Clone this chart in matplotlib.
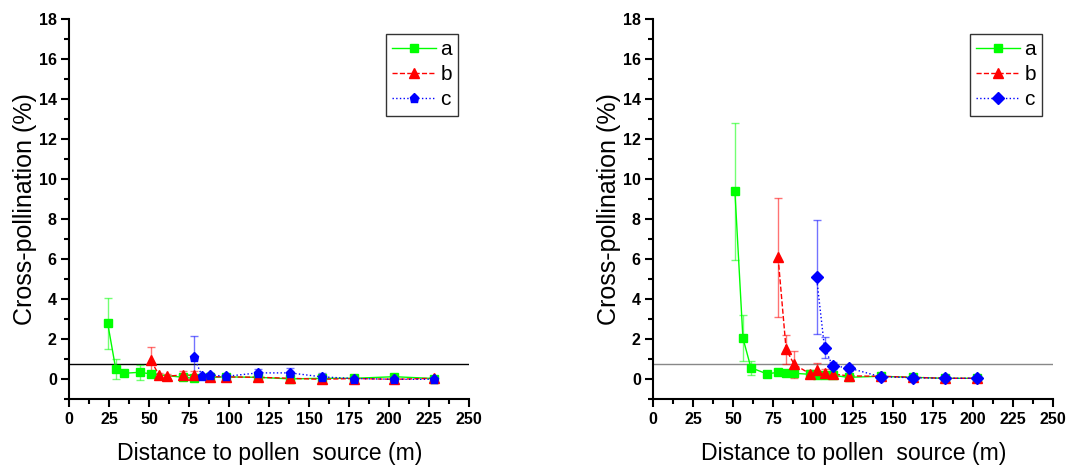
import matplotlib
matplotlib.use("Agg")
import matplotlib.pyplot as plt
from matplotlib.ticker import MultipleLocator
from matplotlib.lines import Line2D

plt.rcParams['font.family'] = ['Liberation Sans', 'DejaVu Sans']

# ---------------- data: left panel ----------------
L_a_x = [24, 29, 34, 44, 51, 71, 78, 88, 98, 118, 138, 158, 178, 203, 228]
L_a_y = [2.8, 0.53, 0.3, 0.35, 0.27, 0.1, 0.05, 0.1, 0.12, 0.1, 0.02, 0.05, 0.05, 0.13, 0.04]
L_a_e = [1.27, 0.5, 0.12, 0.36, 0.1, 0.1, 0.1, 0.1, 0.08, 0.1, 0.08, 0.08, 0.06, 0.1, 0.06]

L_b_x = [51, 56, 61, 71, 78, 88, 98, 118, 138, 158, 178, 203, 228]
L_b_y = [0.95, 0.22, 0.15, 0.22, 0.2, 0.13, 0.12, 0.1, 0.05, 0.0, 0.04, 0.0, 0.05]
L_b_e = [0.65, 0.12, 0.12, 0.2, 0.2, 0.12, 0.1, 0.12, 0.1, 0.15, 0.08, 0.08, 0.1]

L_c_x = [78, 83, 88, 98, 118, 138, 158, 178, 203, 228]
L_c_y = [1.1, 0.15, 0.22, 0.15, 0.32, 0.32, 0.12, 0.04, 0.0, 0.0]
L_c_e = [1.07, 0.12, 0.12, 0.1, 0.2, 0.25, 0.18, 0.08, 0.08, 0.1]

# ---------------- data: right panel ----------------
R_a_x = [51, 56, 61, 71, 78, 83, 88, 98, 102, 107, 112, 122, 142, 162, 182, 202]
R_a_y = [9.4, 2.07, 0.58, 0.27, 0.35, 0.3, 0.3, 0.25, 0.22, 0.2, 0.2, 0.1, 0.15, 0.1, 0.05, 0.05]
R_a_e = [3.43, 1.14, 0.35, 0.12, 0.1, 0.12, 0.1, 0.1, 0.08, 0.08, 0.08, 0.08, 0.08, 0.06, 0.06, 0.05]

R_b_x = [78, 83, 88, 98, 102, 107, 112, 122, 142, 162, 182, 202]
R_b_y = [6.1, 1.5, 0.75, 0.27, 0.47, 0.33, 0.27, 0.17, 0.15, 0.1, 0.05, 0.05]
R_b_e = [2.97, 0.74, 0.67, 0.2, 0.35, 0.2, 0.15, 0.1, 0.1, 0.08, 0.06, 0.05]

R_c_x = [102, 107, 112, 122, 142, 162, 182, 202]
R_c_y = [5.13, 1.58, 0.68, 0.57, 0.13, 0.08, 0.05, 0.05]
R_c_e = [2.85, 0.52, 0.18, 0.15, 0.08, 0.06, 0.05, 0.05]

threshold = 0.77
labels = ['a', 'b', 'c']
x_ticks = [0, 25, 50, 75, 100, 125, 150, 175, 200, 225, 250]

GREEN = '#00ff00'
RED = '#ff0000'
BLUE = '#0000ff'

fig = plt.figure(figsize=(10.67, 4.73), dpi=100)
axL = fig.add_axes([69.3 / 1067, 1 - 399.3 / 473, 400 / 1067, 380 / 473])
axR = fig.add_axes([653.3 / 1067, 1 - 399.3 / 473, 400 / 1067, 380 / 473])


def draw(ax, series, cmarker, line_color):
    styles = [('s', GREEN, '-', 5.5), ('^', RED, '--', 6.5), (cmarker, BLUE, ':', 6.5)]
    handles = []
    for (x, y, e), (m, col, ls, ms) in zip(series, styles):
        ax.errorbar(x, y, yerr=e, fmt='none', ecolor=col, elinewidth=1.0,
                    capsize=3, capthick=1.0, alpha=0.55, zorder=2)
        ax.plot(x, y, color=col, ls=ls, lw=1.0, zorder=3)
        ax.plot(x, y, ls='none', marker=m, ms=ms, color=col, mec=col, zorder=4)
        handles.append(Line2D([], [], color=col, ls=ls, lw=1.0, marker=m, ms=ms, mec=col))
    ax.axhline(threshold, color=line_color, lw=1.0, zorder=1)
    ax.set_xlim(0, 250)
    ax.set_ylim(-1, 18)
    ax.set_xticks(x_ticks)
    ax.xaxis.set_minor_locator(MultipleLocator(12.5))
    ax.yaxis.set_major_locator(MultipleLocator(2))
    ax.yaxis.set_minor_locator(MultipleLocator(1))
    for s in ['top', 'right']:
        ax.spines[s].set_visible(False)
    for s in ['left', 'bottom']:
        ax.spines[s].set_linewidth(1.5)
    ax.tick_params(which='major', direction='out', length=6, width=1.5, labelsize=11.5, pad=3)
    ax.tick_params(which='minor', direction='out', length=3.5, width=1.5)
    for t in ax.get_xticklabels() + ax.get_yticklabels():
        t.set_fontweight('bold')
    ax.set_xlabel('Distance to pollen  source (m)', fontsize=16.6, labelpad=11)
    ax.set_ylabel('Cross-pollination (%)', fontsize=18, labelpad=1)
    leg = ax.legend(handles, labels, loc='upper right', bbox_to_anchor=(0.972, 0.962),
                    fontsize=15, frameon=True, fancybox=False, handlelength=2.1,
                    handletextpad=0.2, borderpad=0.3, labelspacing=0.3,
                    borderaxespad=0)
    leg.get_frame().set_edgecolor('black')
    leg.get_frame().set_linewidth(1.0)


draw(axL, [(L_a_x, L_a_y, L_a_e), (L_b_x, L_b_y, L_b_e), (L_c_x, L_c_y, L_c_e)], 'p', 'black')
draw(axR, [(R_a_x, R_a_y, R_a_e), (R_b_x, R_b_y, R_b_e), (R_c_x, R_c_y, R_c_e)], 'D', '#888888')

fig.savefig('out.png', dpi=100)
